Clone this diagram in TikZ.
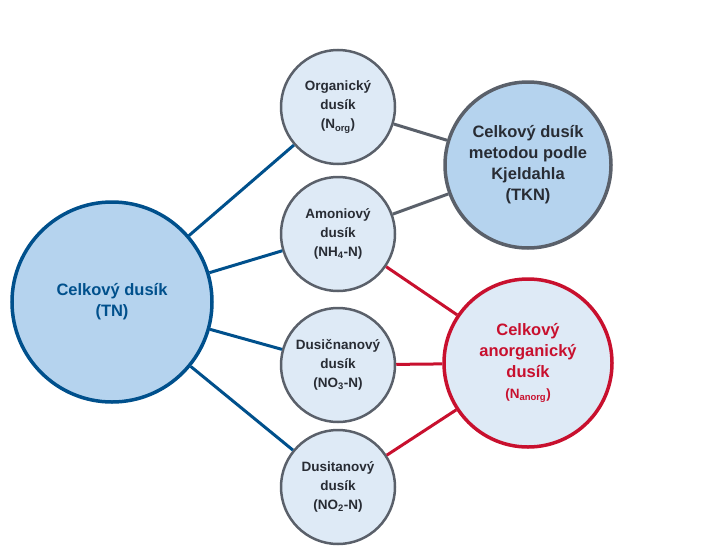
\documentclass[tikz,border=0pt]{standalone}
\usepackage{fontspec}
\setmainfont{Liberation Sans}
\definecolor{tnblue}{RGB}{0,80,140}
\definecolor{fillbig}{RGB}{181,211,238}
\definecolor{fillsmall}{RGB}{222,234,246}
\definecolor{rimgrey}{RGB}{90,96,106}
\definecolor{textgrey}{RGB}{40,44,52}
\definecolor{nred}{RGB}{200,16,46}
\tikzset{
  kruh/.style={circle,draw=rimgrey,line width=2.5pt,fill=fillsmall,minimum size=114pt,inner sep=0pt,align=center,text=textgrey,font=\bfseries\fontsize{13.5}{19}\selectfont},
  velky/.style={kruh,line width=3.5pt,fill=fillbig,font=\bfseries\fontsize{16.5}{21}\selectfont},
  spoj/.style={line width=3pt}
}
\begin{document}
\begin{tikzpicture}[x=1pt,y=-1pt]
  \useasboundingbox (0,0) rectangle (703,554);
  \node [velky,draw=tnblue,text=tnblue,minimum size=200pt] (tn) at (112,302) {Celkový dusík\\(TN)};
  \node [kruh] (org) at (338,107) {Organický\\dusík\\(N\textsubscript{org})};
  \node [kruh] (amon) at (338,234) {Amoniový\\dusík\\(NH\textsubscript{4}-N)};
  \node [kruh] (dusicnan) at (338,365) {Dusičnanový\\dusík\\(NO\textsubscript{3}-N)};
  \node [kruh] (dusitan) at (338,487) {Dusitanový\\dusík\\(NO\textsubscript{2}-N)};
  \node [velky,minimum size=166pt] (tkn) at (528,165) {Celkový dusík\\metodou podle\\Kjeldahla\\(TKN)};
  \node [velky,draw=nred,text=nred,fill=fillsmall,minimum size=168pt] (anorg) at (528,363) {Celkový\\anorganický\\dusík\\{\fontsize{13.5}{19}\selectfont(N\textsubscript{anorg})}};
  % spojnice
  \foreach \n in {org, amon, dusicnan, dusitan}
    \draw [spoj,tnblue] (tn) -- (\n);
  \foreach \n in {org, amon}
    \draw [spoj,rimgrey] (\n) -- (tkn);
  \foreach \n in {amon, dusicnan, dusitan}
    \draw [spoj,nred] (\n) -- (anorg);
\end{tikzpicture}
\end{document}
